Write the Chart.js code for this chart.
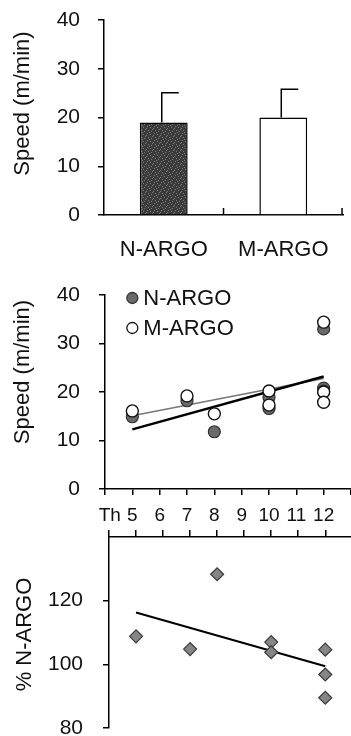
<!DOCTYPE html>
<html>
<head>
<meta charset="utf-8">
<script src="https://cdn.jsdelivr.net/npm/chart.js@4.4.1/dist/chart.umd.min.js"></script>
<style>
  html, body { margin: 0; padding: 0; background: #fff; overflow: hidden; width: 351px; height: 736px; }
  canvas { position: absolute; left: 0; }
  #cBar { top: 0; }
  #cSpeed { top: 275px; }
  #cPct { top: 522px; }
</style>
</head>
<body>
<canvas id="cBar" width="351" height="260"></canvas>
<canvas id="cSpeed" width="360" height="255"></canvas>
<canvas id="cPct" width="360" height="228"></canvas>
<script>
// ── datos ──
// panel superior: velocidad media por grupo (+ DE)
const groups = ['N-ARGO', 'M-ARGO'];
const meanSpeed = [19.0, 20.0];
const sdSpeed = [6.1, 5.8];

// panel medio: velocidad por animal según edad
const ageN = [5, 7, 8, 10, 10, 12, 12, 12];
const speedN = [14.9, 18.2, 11.8, 18.9, 16.6, 33.0, 20.8, 20.2];
const ageM = [5, 7, 8, 10, 10, 12, 12, 12];
const speedM = [16.1, 19.2, 15.5, 20.2, 17.3, 34.4, 20.0, 17.9];
const fitAge = [5, 12];
const fitN = [12.3, 23.2];
const fitM = [15.1, 22.8];

// panel inferior: M-ARGO como % de N-ARGO
const agePct = [5, 7, 8, 10, 10, 12, 12, 12];
const pctN = [108.8, 104.8, 128.3, 107.0, 103.8, 104.6, 96.8, 89.5];
const fitPct = [116.3, 99.4];

// etiquetas del eje de edad (4 = Th, 13 = borde)
const ageLabels = ['\u2002Th', '5', '6', '7', '8', '9', '10', '11', '12', ''];

const FONT = "'Liberation Sans', Arial, sans-serif";
Chart.defaults.font.family = FONT;
Chart.defaults.color = '#111';
Chart.defaults.animation = false;

const pts = (xs, ys) => xs.map((x, i) => ({ x, y: ys[i] }));

// textura punteada de la barra N-ARGO
function stipple() {
    const c = document.createElement('canvas');
    c.width = 7; c.height = 7;
    const g = c.getContext('2d');
    g.fillStyle = '#3b3b3b';
    g.fillRect(0, 0, 7, 7);
    g.fillStyle = '#7a7a7a';
    [[0, 0], [3, 1], [6, 2], [1, 4], [4, 5], [5, 3], [2, 6]].forEach(([x, y]) => g.fillRect(x, y, 1, 1));
    return document.getElementById('cBar').getContext('2d').createPattern(c, 'repeat');
}

// ── plugins ──
const errorBars = {
    id: 'errorBars',
    afterDatasetsDraw(chart) {
        const meta = chart.getDatasetMeta(0);
        const y = chart.scales.y;
        const ctx = chart.ctx;
        ctx.save();
        ctx.strokeStyle = '#000';
        ctx.lineWidth = 1.5;
        meta.data.forEach((bar, i) => {
            const yTop = y.getPixelForValue(meanSpeed[i] + sdSpeed[i]);
            ctx.beginPath();
            ctx.moveTo(bar.x - 2, bar.y);
            ctx.lineTo(bar.x - 2, yTop);
            ctx.lineTo(bar.x + 15, yTop);
            ctx.stroke();
        });
        ctx.restore();
    },
};

const innerTicks = {
    id: 'innerTicks',
    afterDraw(chart) {
        const x = chart.scales.x;
        const b = chart.chartArea.bottom;
        const mid = (x.getPixelForValue(0) + x.getPixelForValue(1)) / 2;
        const ctx = chart.ctx;
        ctx.save();
        ctx.strokeStyle = '#000';
        ctx.lineWidth = 1.5;
        [mid, x.right - 1].forEach(px => {
            ctx.beginPath();
            ctx.moveTo(px, b);
            ctx.lineTo(px, b - 7);
            ctx.stroke();
        });
        ctx.restore();
    },
};

const cornerLegend = {
    id: 'cornerLegend',
    afterDraw(chart) {
        const ctx = chart.ctx;
        const x0 = chart.scales.x.getPixelForValue(5);
        const top = chart.chartArea.top + 3;
        ctx.save();
        ctx.font = '22px ' + FONT;
        ctx.textBaseline = 'middle';
        [1, 0].forEach((di, k) => {
            const ds = chart.data.datasets[di];
            const y = top + k * 30;
            ctx.beginPath();
            ctx.arc(x0, y, 5.5, 0, Math.PI * 2);
            ctx.fillStyle = ds.backgroundColor;
            ctx.fill();
            ctx.lineWidth = 1.3;
            ctx.strokeStyle = ds.borderColor;
            ctx.stroke();
            ctx.fillStyle = '#111';
            ctx.fillText(ds.label, x0 + 11, y + 1);
        });
        ctx.restore();
    },
};

// título del eje y, dibujado girado y algo desplazado como en la figura
const axisTitle = {
    id: 'axisTitle',
    afterDraw(chart, args, opts) {
        const ca = chart.chartArea;
        const ctx = chart.ctx;
        ctx.save();
        ctx.translate(opts.x, (ca.top + ca.bottom) / 2 + opts.shift);
        ctx.rotate(-Math.PI / 2);
        ctx.font = '22px ' + FONT;
        ctx.fillStyle = '#111';
        ctx.textAlign = 'center';
        ctx.textBaseline = 'middle';
        ctx.fillText(opts.text, 0, 0);
        ctx.restore();
    },
};

const axisGrid = { drawOnChartArea: false, tickLength: 6, color: '#000', lineWidth: 1.5 };
const axisBorder = { color: '#000', width: 1.5 };

// ancho fijo del eje y, sin el margen extra que Chart.js suma por las etiquetas
const fixY = (w) => (s) => { s.width = w; s.paddingTop = 0; s.paddingBottom = 0; };

// ── panel superior: barras ──
new Chart(document.getElementById('cBar'), {
    type: 'bar',
    data: {
        labels: groups,
        datasets: [{
            data: meanSpeed,
            backgroundColor: [stipple(), '#ffffff'],
            borderColor: '#000',
            borderWidth: 1.5,
            barPercentage: 0.8,
            categoryPercentage: 0.5,
        }],
    },
    options: {
        responsive: false,
        devicePixelRatio: 1,
        layout: { padding: { top: 20, right: 2, left: 0, bottom: 0 } },
        plugins: {
            legend: { display: false }, tooltip: { enabled: false },
            axisTitle: { text: 'Speed (m/min)', x: 23, shift: -14 },
        },
        scales: {
            x: {
                grid: { drawOnChartArea: false, drawTicks: false },
                border: axisBorder,
                ticks: { font: { size: 22 }, padding: 22, color: '#111' },
                afterFit: (s) => { s.height = 45; },
            },
            y: {
                min: 0, max: 40,
                ticks: { stepSize: 10, font: { size: 21 }, padding: 18, color: '#111' },
                grid: axisGrid,
                border: axisBorder,
                afterFit: fixY(104),
            },
        },
    },
    plugins: [errorBars, innerTicks, axisTitle],
});

// ── panel medio: velocidad vs edad ──
new Chart(document.getElementById('cSpeed'), {
    type: 'scatter',
    data: {
        datasets: [
            {
                label: 'M-ARGO', data: pts(ageM, speedM), order: 0,
                backgroundColor: '#ffffff', borderColor: '#111',
                borderWidth: 1.4, pointRadius: 6,
            },
            {
                label: 'N-ARGO', data: pts(ageN, speedN), order: 1,
                backgroundColor: '#6a6a6a', borderColor: '#333',
                borderWidth: 1.2, pointRadius: 6,
            },
            {
                label: 'fit N', type: 'line', data: pts(fitAge, fitN), order: 2,
                borderColor: '#000', borderWidth: 2.5, pointRadius: 0,
            },
            {
                label: 'fit M', type: 'line', data: pts(fitAge, fitM), order: 3,
                borderColor: '#777', borderWidth: 1.6, pointRadius: 0,
            },
        ],
    },
    options: {
        responsive: false,
        devicePixelRatio: 1,
        layout: { padding: { top: 20, right: 8, left: 0, bottom: 0 } },
        plugins: {
            legend: { display: false }, tooltip: { enabled: false },
            axisTitle: { text: 'Speed (m/min)', x: 23, shift: -20 },
        },
        scales: {
            x: {
                type: 'linear', min: 4, max: 13,
                ticks: {
                    stepSize: 1, font: { size: 19 }, padding: 9, color: '#111',
                    autoSkip: false, maxRotation: 0, minRotation: 0,
                    callback: (v) => ageLabels[v - 4],
                },
                grid: axisGrid,
                border: axisBorder,
                afterFit: (s) => { s.height = 41; },
            },
            y: {
                min: 0, max: 40,
                ticks: { stepSize: 10, font: { size: 21 }, padding: 19, color: '#111' },
                grid: axisGrid,
                border: axisBorder,
                afterFit: fixY(105),
            },
        },
    },
    plugins: [cornerLegend, axisTitle],
});

// ── panel inferior: % N-ARGO ──
new Chart(document.getElementById('cPct'), {
    type: 'scatter',
    data: {
        datasets: [
            {
                label: '% N-ARGO', data: pts(agePct, pctN), order: 0,
                pointStyle: 'rectRot', pointRadius: 6.5,
                backgroundColor: '#858585', borderColor: '#3a3a3a', borderWidth: 1.2,
            },
            {
                label: 'fit', type: 'line', data: pts(fitAge, fitPct), order: 1,
                borderColor: '#000', borderWidth: 2, pointRadius: 0,
            },
        ],
    },
    options: {
        responsive: false,
        devicePixelRatio: 1,
        layout: { padding: { top: 0, right: 5, left: 0, bottom: 22 } },
        plugins: {
            legend: { display: false }, tooltip: { enabled: false },
            axisTitle: { text: '% N-ARGO', x: 25, shift: 2 },
        },
        scales: {
            x: {
                type: 'linear', position: 'top', min: 4, max: 13,
                ticks: { stepSize: 1, display: false },
                grid: { ...axisGrid, tickLength: 7 },
                border: axisBorder,
                afterFit: (s) => { s.height = 15; },
            },
            y: {
                min: 80, max: 140,
                ticks: { stepSize: 20, font: { size: 21 }, padding: 20, color: '#111' },
                grid: axisGrid,
                border: axisBorder,
                afterBuildTicks: (s) => { s.ticks = s.ticks.filter(t => t.value < 140); },
                afterFit: fixY(109),
            },
        },
    },
    plugins: [axisTitle],
});
</script>
</body>
</html>
